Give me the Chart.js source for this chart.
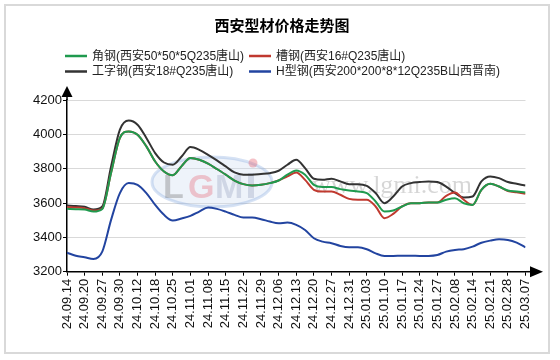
<!DOCTYPE html>
<html><head><meta charset="utf-8">
<script src="https://cdn.jsdelivr.net/npm/chart.js@4.4.1/dist/chart.umd.min.js"></script>
<style>html,body{margin:0;padding:0;background:#fff}#wrap{width:560px;height:360px}</style>
</head><body><div id="wrap"><canvas id="c" width="560" height="360"></canvas></div>
<script>
const chartTitle = '西安型材价格走势图';
const dateLabels = ['24.09.14','24.09.20','24.09.27','24.09.30','24.10.12','24.10.18','24.10.25','24.11.01','24.11.08','24.11.15','24.11.22','24.11.29','24.12.06','24.12.13','24.12.20','24.12.27','24.12.31','25.01.03','25.01.10','25.01.17','25.01.24','25.01.27','25.02.08','25.02.14','25.02.21','25.02.28','25.03.07'];
const seriesNames = ['角钢(西安50*50*5Q235唐山)','槽钢(西安16#Q235唐山)','工字钢(西安18#Q235唐山)','H型钢(西安200*200*8*12Q235B山西晋南)'];
const seriesColors = ['#1f9a4e','#c0392f','#333333','#2244a0'];
// values sampled every half label interval
const angleSteel = [3566,3564,3562,3550,3565,3776,3979,4017,3998,3930,3842,3784,3762,3815,3862,3852,3829,3798,3765,3731,3710,3702,3706,3716,3731,3765,3790,3765,3706,3693,3693,3681,3673,3667,3658,3609,3550,3556,3580,3599,3599,3603,3603,3619,3628,3599,3589,3677,3712,3696,3673,3667,3661];
const channelSteel = [3576,3574,3570,3556,3568,3776,3979,4017,3998,3930,3842,3784,3762,3815,3862,3852,3829,3798,3765,3731,3710,3702,3706,3716,3731,3755,3778,3735,3677,3667,3667,3648,3624,3619,3619,3580,3512,3537,3580,3599,3599,3603,3603,3642,3661,3619,3589,3677,3712,3696,3670,3662,3654];
const iBeam = [3585,3582,3578,3562,3580,3813,4027,4080,4056,3979,3891,3836,3823,3871,3926,3910,3881,3848,3813,3778,3765,3765,3769,3774,3788,3823,3852,3803,3741,3735,3741,3726,3710,3710,3700,3658,3599,3638,3696,3716,3722,3726,3722,3696,3658,3632,3638,3726,3755,3745,3722,3712,3702];
const hBeam = [3311,3293,3284,3274,3317,3502,3658,3716,3706,3658,3589,3531,3498,3510,3525,3550,3574,3566,3550,3531,3515,3515,3506,3492,3482,3486,3473,3443,3395,3375,3366,3350,3342,3342,3331,3307,3292,3292,3293,3293,3292,3292,3297,3317,3327,3331,3346,3369,3381,3389,3385,3369,3342];
const yMin = 3200, yMax = 4200, yStep = 200;

const toPts = vals => vals.map((v,k)=>({x:k/2, y:v}));
const allSeries = [angleSteel, channelSteel, iBeam, hBeam];

const LATIN = '"Liberation Sans", Arial, "Noto Sans CJK SC", sans-serif';

const deco = {
  id:'deco',
  beforeDraw(chart){
    const ctx = chart.ctx;
    ctx.save();
    ctx.fillStyle = '#fff';
    ctx.fillRect(0,0,chart.width,chart.height);
    ctx.strokeStyle = '#d9d9d9';
    ctx.lineWidth = 2;
    ctx.strokeRect(5,5,544,348);
    ctx.restore();
  },
  beforeDatasetsDraw(chart){
    const ctx = chart.ctx;
    ctx.save();
    // watermark logo
    ctx.beginPath();
    ctx.ellipse(212,182,60,25,0,0,Math.PI*2);
    ctx.fillStyle = 'rgba(205,220,240,0.35)';
    ctx.fill();
    ctx.lineWidth = 3;
    ctx.strokeStyle = 'rgba(120,160,220,0.30)';
    ctx.stroke();
    ctx.font = 'bold 34px "Liberation Sans", Arial, sans-serif';
    ctx.textBaseline = 'alphabetic';
    ctx.textAlign = 'left';
    ctx.fillStyle = 'rgba(110,110,110,0.35)'; ctx.fillText('L',163,198);
    ctx.fillStyle = 'rgba(230,100,115,0.35)'; ctx.fillText('G',188,198);
    ctx.fillStyle = 'rgba(150,160,190,0.35)'; ctx.fillText('M',215,198);
    ctx.fillStyle = 'rgba(150,160,190,0.35)'; ctx.fillRect(248,173,6,25);
    ctx.fillStyle = 'rgba(230,100,115,0.40)';
    ctx.beginPath(); ctx.arc(253,163,4.5,0,Math.PI*2); ctx.fill();
    ctx.font = '26px "Liberation Serif", "Times New Roman", serif';
    ctx.fillStyle = 'rgba(0,0,0,0.16)';
    ctx.fillText('www.lgmi.com',312,193);
    ctx.restore();
  },
  afterDraw(chart){
    const ctx = chart.ctx, a = chart.chartArea;
    ctx.save();
    ctx.fillStyle = '#000'; ctx.strokeStyle = '#000'; ctx.lineWidth = 1.5;
    // y arrow
    ctx.beginPath(); ctx.moveTo(a.left, a.top); ctx.lineTo(a.left, 96); ctx.stroke();
    ctx.beginPath(); ctx.moveTo(a.left, 86); ctx.lineTo(a.left-5.5, 97); ctx.lineTo(a.left+5.5, 97); ctx.closePath(); ctx.fill();
    // x arrow
    ctx.beginPath(); ctx.moveTo(a.right, a.bottom); ctx.lineTo(531, a.bottom); ctx.stroke();
    ctx.beginPath(); ctx.moveTo(543, a.bottom); ctx.lineTo(530, a.bottom-5.5); ctx.lineTo(530, a.bottom+5.5); ctx.closePath(); ctx.fill();
    // title
    ctx.font = 'bold 15px "Noto Sans CJK SC", sans-serif';
    ctx.textAlign = 'center'; ctx.textBaseline = 'middle';
    ctx.fillStyle = '#000';
    ctx.fillText(chartTitle, 282, 25);
    // legend
    const pos = [[65,56],[249,56],[65,71.5],[249,71.5]];
    ctx.font = '12px ' + LATIN;
    ctx.textAlign = 'left';
    chart.data.datasets.forEach((ds,i)=>{
      const [x,y] = pos[i];
      ctx.strokeStyle = ds.borderColor; ctx.lineWidth = 2.5;
      ctx.beginPath(); ctx.moveTo(x,y); ctx.lineTo(x+22,y); ctx.stroke();
      ctx.fillStyle = '#222';
      ctx.fillText(ds.label, x+27, y+0.5);
    });
    ctx.restore();
  }
};

new Chart(document.getElementById('c'), {
  type:'line',
  data:{
    datasets: allSeries.map((vals,i)=>({
      label: seriesNames[i],
      data: toPts(vals),
      borderColor: seriesColors[i],
      backgroundColor: seriesColors[i],
      borderWidth: 2,
      pointRadius: 0,
      cubicInterpolationMode: 'monotone',
      fill: false
    }))
  },
  options:{
    responsive:false,
    animation:false,
    devicePixelRatio:1,
    layout:{padding:{left:0, top:100, right:34.5, bottom:0}},
    plugins:{legend:{display:false}, title:{display:false}, tooltip:{enabled:false}},
    scales:{
      x:{
        type:'linear', min:0, max:dateLabels.length-1,
        afterFit(s){ s.height = 88.3; },
        ticks:{stepSize:1, autoSkip:false, maxRotation:90, minRotation:90, padding:3,
          color:'#111', font:{family:LATIN, size:13},
          callback:(v)=> dateLabels[v] !== undefined ? dateLabels[v] : ''},
        grid:{drawOnChartArea:false, drawTicks:true, tickLength:4, tickColor:'#000'},
        border:{color:'#000', width:1.5}
      },
      y:{
        min:yMin, max:yMax,
        afterFit(s){ s.width = 67; },
        ticks:{stepSize:yStep, padding:1, color:'#111', font:{family:LATIN, size:13},
          callback:(v)=> String(v)},
        grid:{color:'#d9d9d9', lineWidth:1, tickLength:4, tickColor:'#000'},
        border:{color:'#000', width:1.5}
      }
    }
  },
  plugins:[deco]
});
</script></body></html>
